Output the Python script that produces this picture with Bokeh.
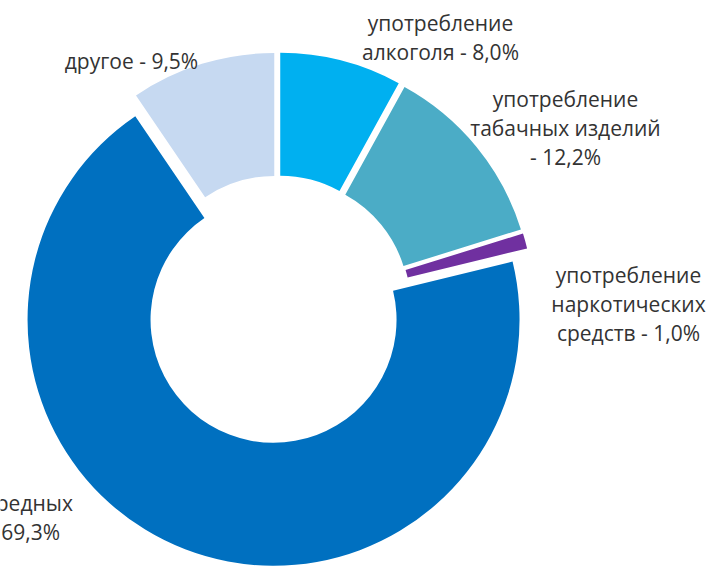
import numpy as np
from bokeh.plotting import figure
from bokeh.models import Range1d, ColumnDataSource
from bokeh.core.properties import value
from bokeh.embed import file_html
from bokeh.resources import INLINE

# ---- data ----
categories = ["употребление алкоголя", "употребление табачных изделий",
              "употребление наркотических средств", "отсутствие вредных привычек", "другое"]
values = [8.0, 12.2, 1.0, 69.3, 9.5]
colors = ["#00B0F0", "#4BACC6", "#7030A0", "#0070C0", "#C6D9F1"]
label_text = ["употребление\nалкоголя - 8,0%",
              "употребление\nтабачных изделий\n- 12,2%",
              "употребление\nнаркотических\nсредств - 1,0%",
              "отсутствие вредных\nпривычек - 69,3%",
              "другое - 9,5%"]

# ---- layout (page-pixel based coordinates, y up = -pixel) ----
W, H = 723, 566
CX, CY = 277.0, -309.0
R_IN, R_OUT = 123.0, 246.0
EXPLODE = 11.0
label_anchor_x = [440, 565, 628, -30, 131]
label_anchor_y = [22, 98, 274, 502, 60]
LINE_STEP = 29

p = figure(width=W, height=H, x_range=Range1d(0, W), y_range=Range1d(-H, 0),
           output_backend="svg", toolbar_location=None, min_border=0,
           x_axis_location=None, y_axis_location=None)
p.outline_line_color = None
p.grid.visible = False
p.background_fill_color = "white"
p.border_fill_color = "white"

vals = np.array(values)
frac = vals / vals.sum()
cum_after = np.cumsum(frac)
cum_before = cum_after - frac
start = np.pi / 2 - 2 * np.pi * cum_after
end = np.pi / 2 - 2 * np.pi * cum_before
mid = (start + end) / 2
cx = CX + EXPLODE * np.cos(mid)
cy = CY + EXPLODE * np.sin(mid)

src = ColumnDataSource(dict(x=cx, y=cy, start=start, end=end, color=colors, cat=categories))
p.annular_wedge(x="x", y="y", inner_radius=R_IN, outer_radius=R_OUT,
                start_angle="start", end_angle="end", fill_color="color",
                line_color=None, source=src)

tx, ty, tt = [], [], []
for lbl, ax, ay in zip(label_text, label_anchor_x, label_anchor_y):
    for i, line in enumerate(lbl.split("\n")):
        tx.append(ax)
        ty.append(-(ay + i * LINE_STEP))
        tt.append(line)

p.text(x=tx, y=ty, text=tt, text_font=value("Open Sans"), text_font_size="21px",
       text_align="center", text_baseline="middle", text_color="#333333")

open("out.html", "w").write(file_html(p, INLINE))
